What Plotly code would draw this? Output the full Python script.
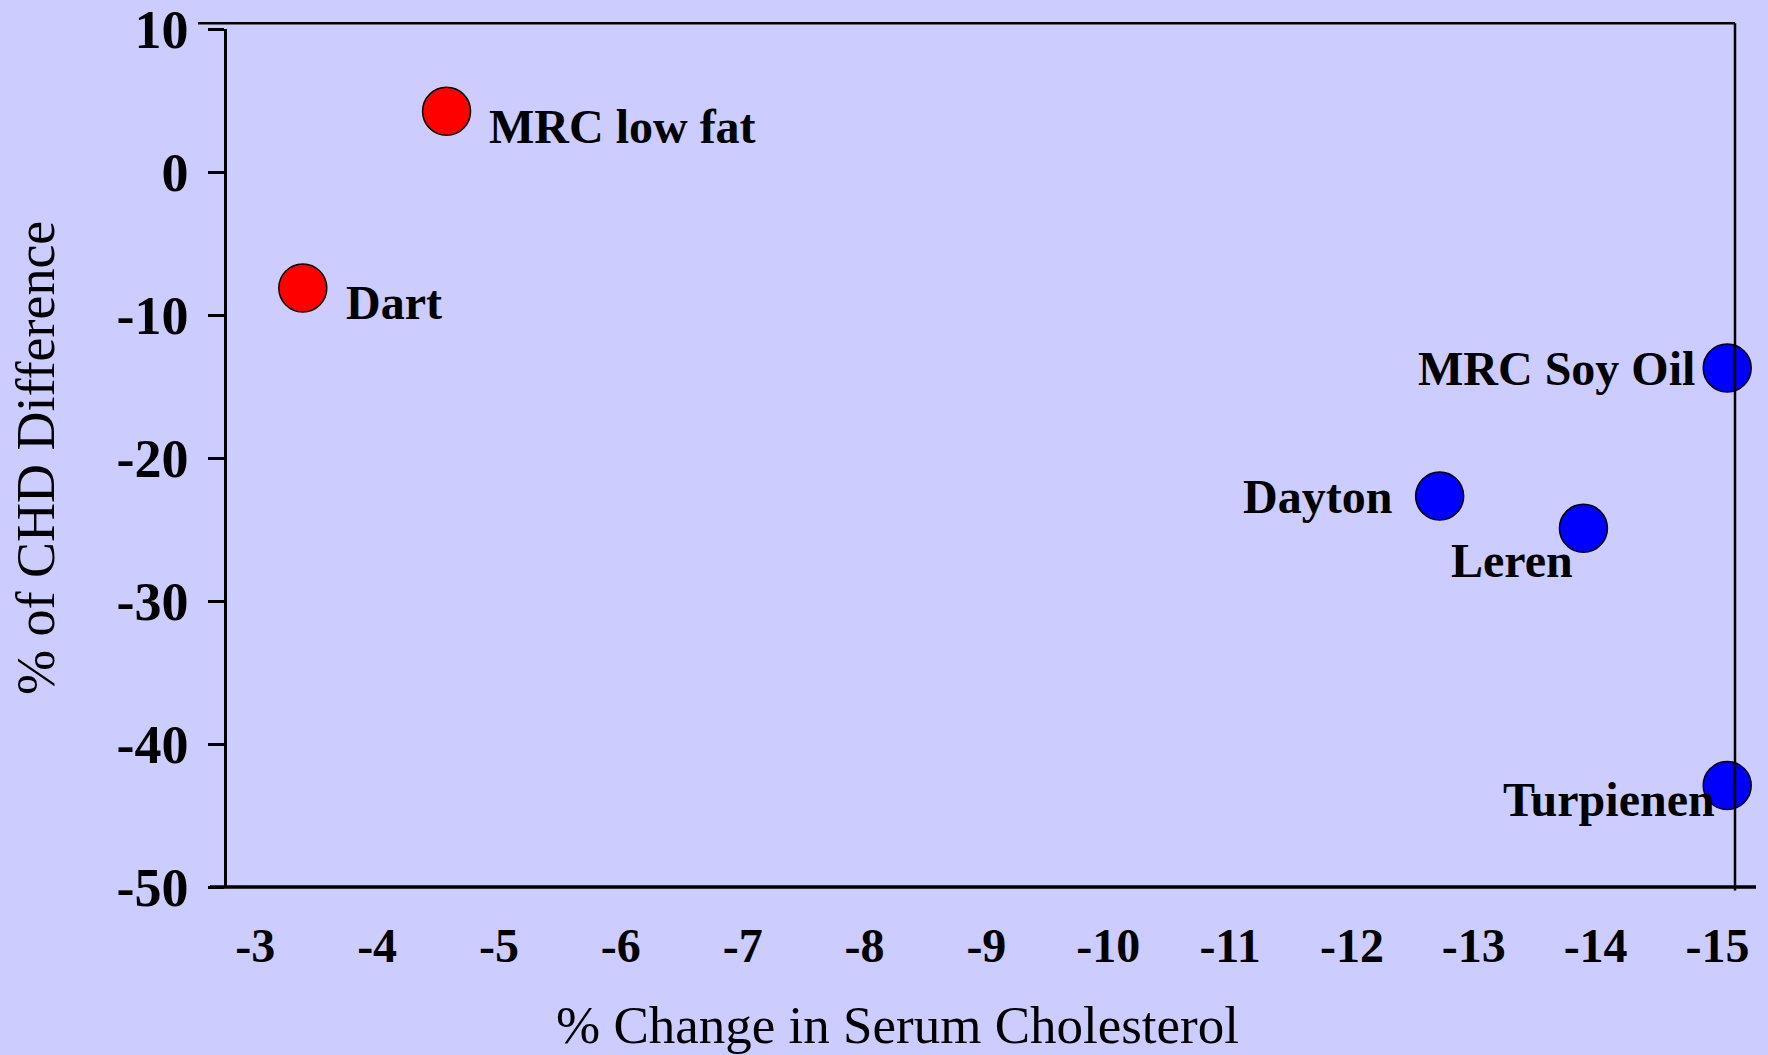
import plotly.graph_objects as go

# ---- data ----
trial_names = ["MRC low fat", "Dart", "MRC Soy Oil", "Dayton", "Leren", "Turpienen"]
chol_change = [-4.57, -3.39, -15.08, -12.72, -13.90, -15.08]
chd_diff = [4.24, -8.11, -13.71, -22.66, -24.92, -42.90]
group = ["low fat", "low fat", "veg oil", "veg oil", "veg oil", "veg oil"]

x_ticks = [-3, -4, -5, -6, -7, -8, -9, -10, -11, -12, -13, -14, -15]
x_tick_labels = ["-3", "-4", "-5", "-6", "-7", "-8", "-9", "-10", "-11", "-12", "-13", "-14", "-15"]
y_ticks = [10, 0, -10, -20, -30, -40, -50]
y_tick_labels = ["10", "0", "-10", "-20", "-30", "-40", "-50"]

x_title = "% Change in Serum Cholesterol"
y_title = "% of CHD Difference"

# ---- styles ----
BG = "#CCCCFF"
SERIF = "Liberation Serif, Times New Roman, serif"
group_color = {"low fat": "#FF0000", "veg oil": "#0000FF"}
# label placement: (xanchor, xshift, yshift)
label_style = {
    "MRC low fat": ("left", 40, -15),
    "Dart": ("left", 41, -15),
    "MRC Soy Oil": ("right", -30, 0),
    "Dayton": ("right", -46, 0),
    "Leren": ("right", -8, -32),
    "Turpienen": ("right", -10, -14),
}

fig = go.Figure()
for g in ["low fat", "veg oil"]:
    xs = [x for x, gg in zip(chol_change, group) if gg == g]
    ys = [y for y, gg in zip(chd_diff, group) if gg == g]
    fig.add_trace(go.Scatter(
        x=xs, y=ys, mode="markers",
        marker=dict(size=48, color=group_color[g], line=dict(color="black", width=1.5)),
        showlegend=False, cliponaxis=False,
    ))

annotations = []
for name, x, y in zip(trial_names, chol_change, chd_diff):
    xa, xs_, ys_ = label_style[name]
    annotations.append(dict(
        x=x, y=y, xref="x", yref="y", text=name, showarrow=False,
        xanchor=xa, yanchor="middle", xshift=xs_, yshift=ys_,
        font=dict(family=SERIF, size=48, color="black", weight="bold"),
    ))

annotations.append(dict(
    x=(897 - 227) / 1508, y=(887 - 1025) / 858, xref="paper", yref="paper",
    text=x_title, showarrow=False, xanchor="center", yanchor="middle",
    font=dict(family=SERIF, size=53, color="black"),
))
annotations.append(dict(
    x=(36 - 227) / 1508, y=0.5, xref="paper", yref="paper",
    text=y_title, showarrow=False, xanchor="center", yanchor="middle", textangle=-90,
    font=dict(family=SERIF, size=54, color="black"),
))

top_y = 1 + (29.3 - 23.5) / 858
shapes = [
    # top frame line
    dict(type="line", xref="paper", yref="paper", x0=(198 - 227) / 1508, x1=1.0,
         y0=top_y, y1=top_y, line=dict(color="black", width=2.5)),
    # right frame line
    dict(type="line", xref="paper", yref="paper", x0=1.0, x1=1.0,
         y0=top_y, y1=-(890.7 - 887.3) / 858, line=dict(color="black", width=2.5)),
    # bottom axis line
    dict(type="line", xref="paper", yref="paper", x0=(210 - 227) / 1508, x1=(1756 - 227) / 1508,
         y0=0, y1=0, line=dict(color="black", width=3.5)),
]

fig.update_layout(
    width=1768, height=1055,
    margin=dict(l=227, r=33, t=29, b=168, pad=0, autoexpand=False),
    paper_bgcolor=BG, plot_bgcolor=BG,
    annotations=annotations, shapes=shapes,
    showlegend=False,
    xaxis=dict(
        range=[-2.768, -15.144], tickvals=x_ticks, ticktext=x_tick_labels,
        showgrid=False, zeroline=False, showline=False, ticks="",
        ticklabelstandoff=26, automargin=False, ticklabeloverflow="allow",
        tickfont=dict(family=SERIF, size=48, color="black", weight="bold"),
    ),
    yaxis=dict(
        range=[-50, 10], tickvals=y_ticks, ticktext=y_tick_labels,
        showgrid=False, zeroline=False, showline=True, linecolor="black", linewidth=2.5,
        ticks="outside", ticklen=16, tickwidth=2.5, tickcolor="black",
        ticklabelstandoff=9, automargin=False, ticklabeloverflow="allow",
        tickfont=dict(family=SERIF, size=54, color="black", weight="bold"),
    ),
)

fig.write_html("out.html")
